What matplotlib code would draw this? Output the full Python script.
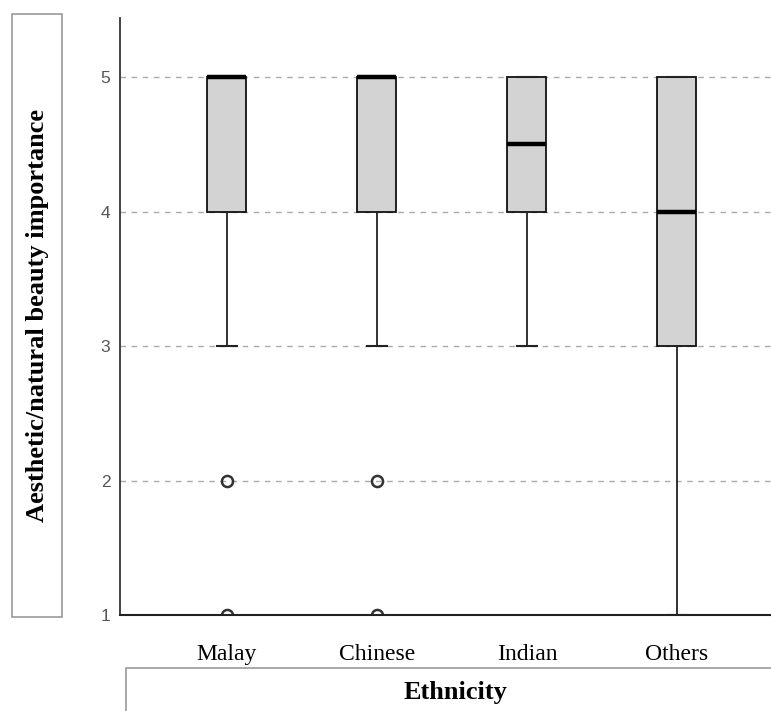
import matplotlib
matplotlib.use('Agg')
import matplotlib.pyplot as plt
from matplotlib.patches import Rectangle

categories = ['Malay', 'Chinese', 'Indian', 'Others']
q1 = [4, 4, 4, 3]
medians = [5, 5, 4.5, 4]
q3 = [5, 5, 5, 5]
whisker_low = [3, 3, 3, 1]
whisker_high = [5, 5, 5, 5]
outliers = [[2, 1], [2, 1], [], []]
y_ticks = [1, 2, 3, 4, 5]

stats = []
for i, name in enumerate(categories):
    stats.append({
        'label': name,
        'q1': q1[i],
        'med': medians[i],
        'q3': q3[i],
        'whislo': whisker_low[i],
        'whishi': whisker_high[i],
        'fliers': outliers[i],
    })

fig = plt.figure(figsize=(7.71, 7.11), dpi=100)
ax = fig.add_axes([120 / 771, 1 - 615 / 711, 1 - 120 / 771, (615 - 18) / 711])

ax.bxp(stats, positions=[1, 2, 3, 4], widths=0.26, capwidths=0.133,
       patch_artist=True,
       boxprops=dict(facecolor='#d3d3d3', edgecolor='#111111', linewidth=1.3),
       medianprops=dict(color='black', linewidth=3.2),
       whiskerprops=dict(color='#222222', linewidth=1.3),
       capprops=dict(color='#222222', linewidth=1.5),
       flierprops=dict(marker='o', markersize=8, markerfacecolor='none',
                       markeredgecolor='#333333', markeredgewidth=1.8))

ax.set_xlim(0.287, 4.627)
ax.set_ylim(1, 5.44)
ax.set_yticks(y_ticks)
ax.set_yticklabels([str(t) for t in y_ticks], family='Liberation Sans',
                   fontsize=12.5, color='#555555')
ax.set_xticks([1, 2, 3, 4])
ax.set_xticklabels(categories, family='Liberation Serif', fontsize=17)
ax.tick_params(axis='y', length=0, pad=7)
ax.tick_params(axis='x', length=0, pad=21)

for t in y_ticks[1:]:
    ax.axhline(t, color='#aaaaaa', linestyle=(0, (4, 4)), linewidth=1.0, zorder=0)

ax.spines['top'].set_visible(False)
ax.spines['right'].set_visible(False)
ax.spines['left'].set_color('#333333')
ax.spines['left'].set_linewidth(1.3)
ax.spines['bottom'].set_color('#222222')
ax.spines['bottom'].set_linewidth(1.5)

# y label box
fig.patches.append(Rectangle((12 / 771, 1 - 617 / 711), 50 / 771, 603 / 711,
                             transform=fig.transFigure, fill=False,
                             edgecolor='#999999', linewidth=1.2))
fig.text(37.5 / 771, 1 - 315 / 711, 'Aesthetic/natural beauty importance',
         rotation=90, ha='center', va='center', family='Liberation Serif',
         fontweight='bold', fontsize=19)

# x label box
fig.patches.append(Rectangle((126 / 771, -0.01), 1.0, (711 - 668) / 711 + 0.01,
                             transform=fig.transFigure, fill=False,
                             edgecolor='#999999', linewidth=1.2))
fig.text(455 / 771, 1 - 693 / 711, 'Ethnicity', ha='center', va='center',
         family='Liberation Serif', fontweight='bold', fontsize=19)

fig.savefig('out.png', dpi=100)
